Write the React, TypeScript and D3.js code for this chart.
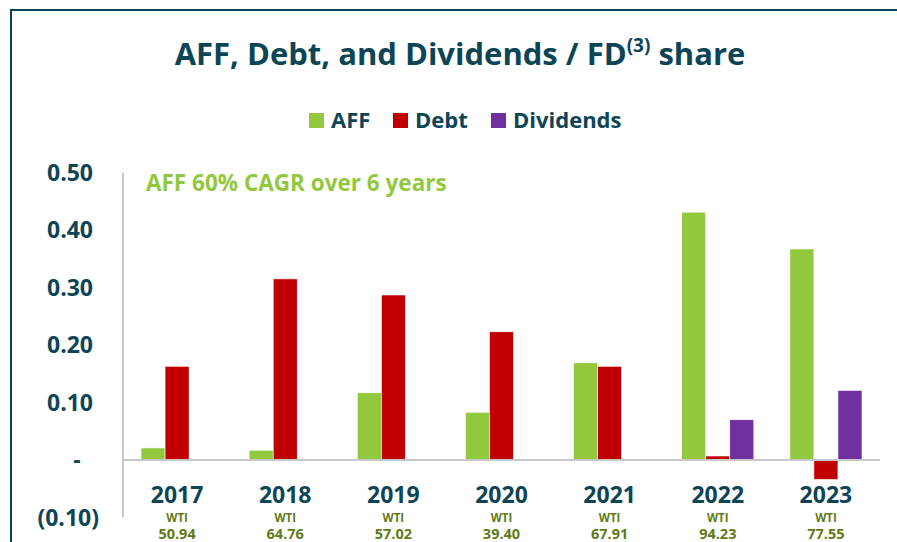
import React from "react";
import * as d3 from "d3";

const years = ["2017", "2018", "2019", "2020", "2021", "2022", "2023"];
const wti = ["50.94", "64.76", "57.02", "39.40", "67.91", "94.23", "77.55"];
const aff = [0.021, 0.017, 0.117, 0.083, 0.169, 0.431, 0.367];
const debt = [0.163, 0.315, 0.287, 0.223, 0.163, 0.007, -0.034];
const dividends = [0, 0, 0, 0, 0, 0.07, 0.121];
const yTicks = [0.5, 0.4, 0.3, 0.2, 0.1, 0, -0.1];

const seriesNames = ["AFF", "Debt", "Dividends"];
const colors = ["#92c83e", "#c00000", "#7030a0"];

const W = 897;
const H = 542;
const teal = "#0d4556";
const olive = "#5f7a18";
const font = "'Open Sans', sans-serif";

const fmtTick = (v: number) =>
  v === 0 ? "-" : v < 0 ? `(${Math.abs(v).toFixed(2)})` : v.toFixed(2);

export default function App() {
  const x = d3.scaleBand().domain(years).range([123, 880]);
  const inner = d3
    .scaleBand()
    .domain(seriesNames)
    .range([0, x.bandwidth()])
    .paddingOuter(0.75)
    .paddingInner(0);
  const y = d3.scaleLinear().domain([-0.1, 0.5]).range([517.5, 172.5]);

  const series = [aff, debt, dividends];
  const legendX = [309, 393, 491];

  return (
    <svg width={W} height={H} style={{ position: "absolute", left: 0, top: 0, background: "#fff" }}>
      {/* frame */}
      <line x1={11} x2={W} y1={10} y2={10} stroke={teal} strokeWidth={2} />
      <line x1={11} x2={11} y1={9} y2={H} stroke={teal} strokeWidth={2} />

      <text x={460} y={65} textAnchor="middle" fontFamily={font} fontWeight={700} fontSize={31} fill={teal}>
        AFF, Debt, and Dividends / FD
        <tspan fontSize={19} dy={-13}>(3)</tspan>
        <tspan dy={13}> share</tspan>
      </text>

      {/* legend */}
      {seriesNames.map((s, i) => (
        <g key={s}>
          <rect x={legendX[i]} y={113} width={15} height={15} fill={colors[i]} />
          <text x={legendX[i] + 22} y={128} fontFamily={font} fontWeight={700} fontSize={22} fill={teal}>
            {s}
          </text>
        </g>
      ))}

      {/* y axis */}
      <line x1={123} x2={123} y1={y(0.5)} y2={y(-0.1)} stroke="#c8c8c8" strokeWidth={2} />
      {yTicks.map((t) => (
        <text
          key={t}
          x={t === 0 ? 77 : t < 0 ? 99 : 93}
          y={y(t) + 8}
          textAnchor={t === 0 ? "middle" : "end"}
          fontFamily={font}
          fontWeight={700}
          fontSize={23}
          fill={teal}
        >
          {fmtTick(t)}
        </text>
      ))}

      {/* bars */}
      {years.map((yr, i) => (
        <g key={yr}>
          {series.map((vals, j) => {
            const v = vals[i];
            if (v === 0) return null;
            const x0 = (x(yr) as number) + (inner(seriesNames[j]) as number);
            return (
              <rect
                key={j}
                x={x0}
                y={y(Math.max(0, v))}
                width={inner.bandwidth()}
                height={Math.abs(y(v) - y(0))}
                fill={colors[j]}
                stroke="#ffffff"
                strokeWidth={0.6}
              />
            );
          })}
        </g>
      ))}

      {/* zero line */}
      <line x1={123} x2={880} y1={y(0)} y2={y(0)} stroke="#c8c8c8" strokeWidth={2} />

      {/* category labels */}
      {years.map((yr, i) => {
        const cx = (x(yr) as number) + x.bandwidth() / 2;
        return (
          <g key={yr}>
            <text x={cx} y={503} textAnchor="middle" fontFamily={font} fontWeight={700} fontSize={23} fill={teal}>
              {yr}
            </text>
            <text x={cx} y={522} textAnchor="middle" fontFamily={font} fontWeight={700} fontSize={11.5} fill={olive}>
              WTI
            </text>
            <text x={cx} y={539} textAnchor="middle" fontFamily={font} fontWeight={700} fontSize={14.5} fill={olive}>
              {wti[i]}
            </text>
          </g>
        );
      })}

      <text x={146} y={191} fontFamily={font} fontWeight={700} fontSize={22.5} fill="#92c83e">
        AFF 60% CAGR over 6 years
      </text>
    </svg>
  );
}
